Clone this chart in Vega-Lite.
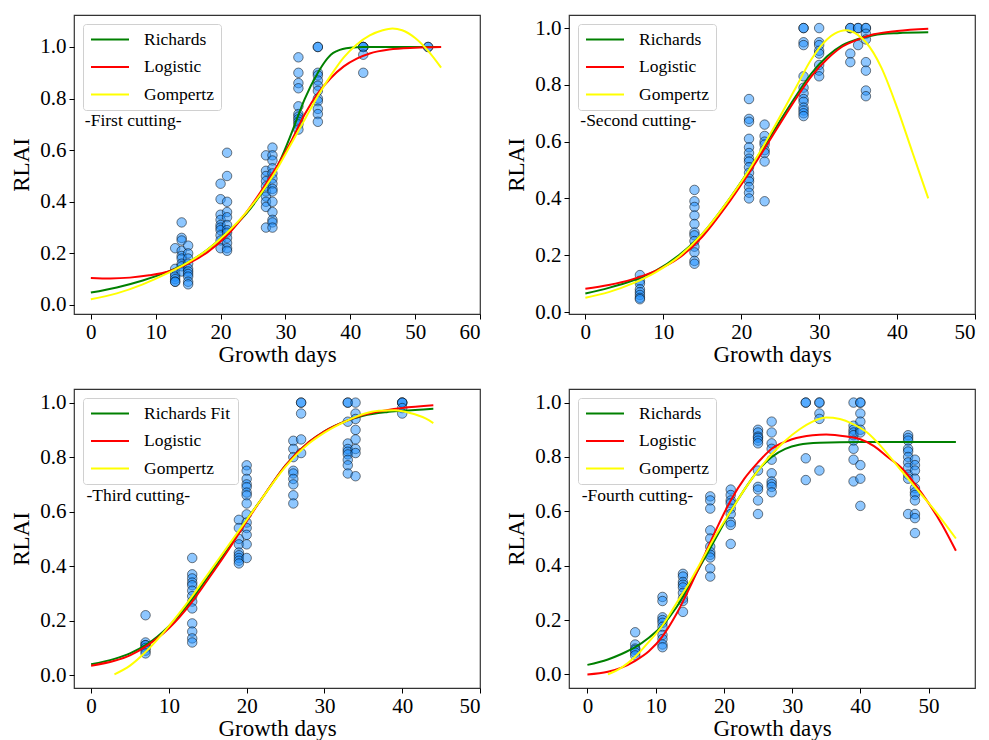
{
"$schema": "https://vega.github.io/schema/vega-lite/v6.json",
"padding": {"left": 10, "top": 14, "right": 2, "bottom": 2},
"background": "white",
"config": {
 "font": "Liberation Serif",
 "view": {"stroke": "#333333", "strokeWidth": 1.2},
 "axis": {"domain": false, "grid": false, "labelFont": "Liberation Serif", "labelFontSize": 21, "labelColor": "#000000", "titleFont": "Liberation Serif", "titleFontSize": 23, "titleFontWeight": "normal", "titleColor": "#000000", "tickColor": "#000000", "tickSize": 5, "labelPadding": 2},
 "axisX": {"titlePadding": 1},
 "axisY": {"titlePadding": 6, "labelPadding": 3},
 "legend": {"orient": "top-left", "offset": 9, "title": null, "symbolType": "stroke", "symbolSize": 1444, "symbolStrokeWidth": 2, "labelFont": "Liberation Serif", "labelFontSize": 17.5, "labelColor": "#000000", "labelOffset": 14, "padding": 7, "clipHeight": 17, "rowPadding": 9.5, "fillColor": "rgba(255,255,255,0.8)", "strokeColor": "#d0d0d0", "cornerRadius": 3}
},
"datasets": {
 "p1": [
  {"day":13,"rlai":0.22},{"day":13,"rlai":0.14},{"day":13,"rlai":0.12},{"day":13,"rlai":0.11},{"day":13,"rlai":0.10},{"day":13,"rlai":0.09},{"day":13,"rlai":0.09},
  {"day":14,"rlai":0.32},{"day":14,"rlai":0.26},{"day":14,"rlai":0.25},{"day":14,"rlai":0.21},{"day":14,"rlai":0.19},{"day":14,"rlai":0.18},{"day":14,"rlai":0.16},{"day":14,"rlai":0.15},{"day":14,"rlai":0.13},
  {"day":15,"rlai":0.23},{"day":15,"rlai":0.20},{"day":15,"rlai":0.18},{"day":15,"rlai":0.16},{"day":15,"rlai":0.14},{"day":15,"rlai":0.13},{"day":15,"rlai":0.12},{"day":15,"rlai":0.11},{"day":15,"rlai":0.09},{"day":15,"rlai":0.08},
  {"day":20,"rlai":0.47},{"day":20,"rlai":0.41},{"day":20,"rlai":0.35},{"day":20,"rlai":0.33},{"day":20,"rlai":0.31},{"day":20,"rlai":0.30},{"day":20,"rlai":0.29},{"day":20,"rlai":0.27},{"day":20,"rlai":0.25},{"day":20,"rlai":0.22},
  {"day":21,"rlai":0.59},{"day":21,"rlai":0.50},{"day":21,"rlai":0.40},{"day":21,"rlai":0.36},{"day":21,"rlai":0.34},{"day":21,"rlai":0.31},{"day":21,"rlai":0.29},{"day":21,"rlai":0.28},{"day":21,"rlai":0.26},{"day":21,"rlai":0.24},{"day":21,"rlai":0.22},{"day":21,"rlai":0.21},
  {"day":27,"rlai":0.58},{"day":27,"rlai":0.52},{"day":27,"rlai":0.50},{"day":27,"rlai":0.48},{"day":27,"rlai":0.46},{"day":27,"rlai":0.44},{"day":27,"rlai":0.42},{"day":27,"rlai":0.40},{"day":27,"rlai":0.38},{"day":27,"rlai":0.30},
  {"day":28,"rlai":0.61},{"day":28,"rlai":0.58},{"day":28,"rlai":0.56},{"day":28,"rlai":0.53},{"day":28,"rlai":0.51},{"day":28,"rlai":0.49},{"day":28,"rlai":0.47},{"day":28,"rlai":0.45},{"day":28,"rlai":0.44},{"day":28,"rlai":0.40},{"day":28,"rlai":0.36},{"day":28,"rlai":0.33},{"day":28,"rlai":0.32},{"day":28,"rlai":0.30},
  {"day":32,"rlai":0.96},{"day":32,"rlai":0.90},{"day":32,"rlai":0.86},{"day":32,"rlai":0.84},{"day":32,"rlai":0.77},{"day":32,"rlai":0.74},{"day":32,"rlai":0.73},{"day":32,"rlai":0.72},{"day":32,"rlai":0.71},{"day":32,"rlai":0.70},{"day":32,"rlai":0.68},
  {"day":35,"rlai":1.0},{"day":35,"rlai":1.0},{"day":35,"rlai":0.90},{"day":35,"rlai":0.89},{"day":35,"rlai":0.87},{"day":35,"rlai":0.85},{"day":35,"rlai":0.83},{"day":35,"rlai":0.80},{"day":35,"rlai":0.79},{"day":35,"rlai":0.76},{"day":35,"rlai":0.74},{"day":35,"rlai":0.71},
  {"day":42,"rlai":1.0},{"day":42,"rlai":1.0},{"day":42,"rlai":1.0},{"day":42,"rlai":0.97},{"day":42,"rlai":0.90},
  {"day":52,"rlai":1.0},{"day":52,"rlai":1.0}
 ],
 "p2": [
  {"day":7,"rlai":0.13},{"day":7,"rlai":0.11},{"day":7,"rlai":0.10},{"day":7,"rlai":0.08},{"day":7,"rlai":0.07},{"day":7,"rlai":0.06},{"day":7,"rlai":0.05},{"day":7,"rlai":0.045},
  {"day":14,"rlai":0.43},{"day":14,"rlai":0.39},{"day":14,"rlai":0.37},{"day":14,"rlai":0.34},{"day":14,"rlai":0.31},{"day":14,"rlai":0.28},{"day":14,"rlai":0.27},{"day":14,"rlai":0.25},{"day":14,"rlai":0.23},{"day":14,"rlai":0.21},{"day":14,"rlai":0.18},{"day":14,"rlai":0.17},
  {"day":21,"rlai":0.75},{"day":21,"rlai":0.68},{"day":21,"rlai":0.67},{"day":21,"rlai":0.61},{"day":21,"rlai":0.58},{"day":21,"rlai":0.56},{"day":21,"rlai":0.54},{"day":21,"rlai":0.53},{"day":21,"rlai":0.51},{"day":21,"rlai":0.49},{"day":21,"rlai":0.47},{"day":21,"rlai":0.46},{"day":21,"rlai":0.44},{"day":21,"rlai":0.42},{"day":21,"rlai":0.40},
  {"day":23,"rlai":0.66},{"day":23,"rlai":0.62},{"day":23,"rlai":0.60},{"day":23,"rlai":0.59},{"day":23,"rlai":0.57},{"day":23,"rlai":0.56},{"day":23,"rlai":0.53},{"day":23,"rlai":0.39},
  {"day":28,"rlai":1.0},{"day":28,"rlai":1.0},{"day":28,"rlai":0.95},{"day":28,"rlai":0.94},{"day":28,"rlai":0.83},{"day":28,"rlai":0.79},{"day":28,"rlai":0.77},{"day":28,"rlai":0.75},{"day":28,"rlai":0.74},{"day":28,"rlai":0.72},{"day":28,"rlai":0.71},{"day":28,"rlai":0.70},{"day":28,"rlai":0.69},
  {"day":30,"rlai":1.0},{"day":30,"rlai":0.95},{"day":30,"rlai":0.94},{"day":30,"rlai":0.92},{"day":30,"rlai":0.91},{"day":30,"rlai":0.87},{"day":30,"rlai":0.85},{"day":30,"rlai":0.83},
  {"day":34,"rlai":1.0},{"day":34,"rlai":1.0},{"day":34,"rlai":0.91},{"day":34,"rlai":0.88},
  {"day":35,"rlai":1.0},{"day":35,"rlai":1.0},{"day":35,"rlai":0.94},
  {"day":36,"rlai":1.0},{"day":36,"rlai":1.0},{"day":36,"rlai":0.98},{"day":36,"rlai":0.96},{"day":36,"rlai":0.88},{"day":36,"rlai":0.85},{"day":36,"rlai":0.78},{"day":36,"rlai":0.76}
 ],
 "p3": [
  {"day":7,"rlai":0.22},{"day":7,"rlai":0.12},{"day":7,"rlai":0.11},{"day":7,"rlai":0.11},{"day":7,"rlai":0.10},{"day":7,"rlai":0.09},{"day":7,"rlai":0.08},
  {"day":13,"rlai":0.43},{"day":13,"rlai":0.37},{"day":13,"rlai":0.355},{"day":13,"rlai":0.34},{"day":13,"rlai":0.33},{"day":13,"rlai":0.31},{"day":13,"rlai":0.29},{"day":13,"rlai":0.27},{"day":13,"rlai":0.245},{"day":13,"rlai":0.19},{"day":13,"rlai":0.16},{"day":13,"rlai":0.135},{"day":13,"rlai":0.12},
  {"day":19,"rlai":0.57},{"day":19,"rlai":0.54},{"day":19,"rlai":0.50},{"day":19,"rlai":0.48},{"day":19,"rlai":0.45},{"day":19,"rlai":0.44},{"day":19,"rlai":0.43},{"day":19,"rlai":0.42},{"day":19,"rlai":0.41},
  {"day":20,"rlai":0.77},{"day":20,"rlai":0.75},{"day":20,"rlai":0.72},{"day":20,"rlai":0.70},{"day":20,"rlai":0.69},{"day":20,"rlai":0.67},{"day":20,"rlai":0.66},{"day":20,"rlai":0.63},{"day":20,"rlai":0.59},{"day":20,"rlai":0.56},{"day":20,"rlai":0.54},{"day":20,"rlai":0.515},{"day":20,"rlai":0.48},{"day":20,"rlai":0.43},
  {"day":26,"rlai":0.86},{"day":26,"rlai":0.83},{"day":26,"rlai":0.80},{"day":26,"rlai":0.75},{"day":26,"rlai":0.74},{"day":26,"rlai":0.72},{"day":26,"rlai":0.70},{"day":26,"rlai":0.66},{"day":26,"rlai":0.63},
  {"day":27,"rlai":1.0},{"day":27,"rlai":1.0},{"day":27,"rlai":0.96},{"day":27,"rlai":0.865},{"day":27,"rlai":0.815},
  {"day":33,"rlai":1.0},{"day":33,"rlai":1.0},{"day":33,"rlai":0.93},{"day":33,"rlai":0.85},{"day":33,"rlai":0.83},{"day":33,"rlai":0.82},{"day":33,"rlai":0.81},{"day":33,"rlai":0.79},{"day":33,"rlai":0.77},{"day":33,"rlai":0.74},
  {"day":34,"rlai":1.0},{"day":34,"rlai":0.96},{"day":34,"rlai":0.94},{"day":34,"rlai":0.90},{"day":34,"rlai":0.865},{"day":34,"rlai":0.83},{"day":34,"rlai":0.815},{"day":34,"rlai":0.73},
  {"day":40,"rlai":1.0},{"day":40,"rlai":1.0},{"day":40,"rlai":1.0},{"day":40,"rlai":0.98},{"day":40,"rlai":0.96}
 ],
 "p4": [
  {"day":7,"rlai":0.155},{"day":7,"rlai":0.11},{"day":7,"rlai":0.095},{"day":7,"rlai":0.09},{"day":7,"rlai":0.08},{"day":7,"rlai":0.07},
  {"day":11,"rlai":0.285},{"day":11,"rlai":0.27},{"day":11,"rlai":0.21},{"day":11,"rlai":0.20},{"day":11,"rlai":0.19},{"day":11,"rlai":0.175},{"day":11,"rlai":0.145},{"day":11,"rlai":0.13},{"day":11,"rlai":0.11},{"day":11,"rlai":0.10},
  {"day":14,"rlai":0.37},{"day":14,"rlai":0.36},{"day":14,"rlai":0.34},{"day":14,"rlai":0.33},{"day":14,"rlai":0.32},{"day":14,"rlai":0.30},{"day":14,"rlai":0.28},{"day":14,"rlai":0.27},{"day":14,"rlai":0.23},
  {"day":18,"rlai":0.655},{"day":18,"rlai":0.64},{"day":18,"rlai":0.61},{"day":18,"rlai":0.53},{"day":18,"rlai":0.50},{"day":18,"rlai":0.47},{"day":18,"rlai":0.45},{"day":18,"rlai":0.44},{"day":18,"rlai":0.43},{"day":18,"rlai":0.39},{"day":18,"rlai":0.36},
  {"day":21,"rlai":0.68},{"day":21,"rlai":0.66},{"day":21,"rlai":0.64},{"day":21,"rlai":0.63},{"day":21,"rlai":0.61},{"day":21,"rlai":0.59},{"day":21,"rlai":0.56},{"day":21,"rlai":0.55},{"day":21,"rlai":0.48},
  {"day":25,"rlai":0.90},{"day":25,"rlai":0.89},{"day":25,"rlai":0.875},{"day":25,"rlai":0.87},{"day":25,"rlai":0.86},{"day":25,"rlai":0.85},{"day":25,"rlai":0.75},{"day":25,"rlai":0.69},{"day":25,"rlai":0.68},{"day":25,"rlai":0.64},{"day":25,"rlai":0.59},
  {"day":27,"rlai":0.93},{"day":27,"rlai":0.89},{"day":27,"rlai":0.85},{"day":27,"rlai":0.83},{"day":27,"rlai":0.79},{"day":27,"rlai":0.74},{"day":27,"rlai":0.71},{"day":27,"rlai":0.70},{"day":27,"rlai":0.69},{"day":27,"rlai":0.67},
  {"day":32,"rlai":1.0},{"day":32,"rlai":1.0},{"day":32,"rlai":0.795},{"day":32,"rlai":0.715},
  {"day":34,"rlai":1.0},{"day":34,"rlai":1.0},{"day":34,"rlai":0.96},{"day":34,"rlai":0.94},{"day":34,"rlai":0.75},
  {"day":39,"rlai":1.0},{"day":39,"rlai":0.915},{"day":39,"rlai":0.90},{"day":39,"rlai":0.89},{"day":39,"rlai":0.88},{"day":39,"rlai":0.86},{"day":39,"rlai":0.83},{"day":39,"rlai":0.79},{"day":39,"rlai":0.71},
  {"day":40,"rlai":1.0},{"day":40,"rlai":1.0},{"day":40,"rlai":0.96},{"day":40,"rlai":0.93},{"day":40,"rlai":0.90},{"day":40,"rlai":0.89},{"day":40,"rlai":0.77},{"day":40,"rlai":0.72},{"day":40,"rlai":0.62},
  {"day":47,"rlai":0.88},{"day":47,"rlai":0.87},{"day":47,"rlai":0.86},{"day":47,"rlai":0.83},{"day":47,"rlai":0.82},{"day":47,"rlai":0.80},{"day":47,"rlai":0.78},{"day":47,"rlai":0.76},{"day":47,"rlai":0.735},{"day":47,"rlai":0.72},{"day":47,"rlai":0.59},
  {"day":48,"rlai":0.79},{"day":48,"rlai":0.77},{"day":48,"rlai":0.75},{"day":48,"rlai":0.72},{"day":48,"rlai":0.685},{"day":48,"rlai":0.67},{"day":48,"rlai":0.66},{"day":48,"rlai":0.64},{"day":48,"rlai":0.59},{"day":48,"rlai":0.575},{"day":48,"rlai":0.52}
 ],
 "f1": [
  {"model":"Richards","day":0,"rlai":0.048},{"model":"Richards","day":4,"rlai":0.068},{"model":"Richards","day":8,"rlai":0.095},{"model":"Richards","day":12,"rlai":0.13},{"model":"Richards","day":15,"rlai":0.165},{"model":"Richards","day":18,"rlai":0.215},{"model":"Richards","day":21,"rlai":0.28},{"model":"Richards","day":24,"rlai":0.355},{"model":"Richards","day":27,"rlai":0.46},{"model":"Richards","day":29,"rlai":0.55},{"model":"Richards","day":31,"rlai":0.67},{"model":"Richards","day":33,"rlai":0.8},{"model":"Richards","day":35,"rlai":0.9},{"model":"Richards","day":36,"rlai":0.94},{"model":"Richards","day":37,"rlai":0.97},{"model":"Richards","day":38,"rlai":0.985},{"model":"Richards","day":40,"rlai":0.997},{"model":"Richards","day":42,"rlai":1.0},{"model":"Richards","day":48,"rlai":1.0},{"model":"Richards","day":54,"rlai":1.0},
  {"model":"Logistic","day":0,"rlai":0.105},{"model":"Logistic","day":3,"rlai":0.103},{"model":"Logistic","day":6,"rlai":0.106},{"model":"Logistic","day":9,"rlai":0.115},{"model":"Logistic","day":12,"rlai":0.13},{"model":"Logistic","day":15,"rlai":0.16},{"model":"Logistic","day":18,"rlai":0.205},{"model":"Logistic","day":21,"rlai":0.27},{"model":"Logistic","day":24,"rlai":0.36},{"model":"Logistic","day":27,"rlai":0.47},{"model":"Logistic","day":29,"rlai":0.55},{"model":"Logistic","day":31,"rlai":0.64},{"model":"Logistic","day":33,"rlai":0.74},{"model":"Logistic","day":35,"rlai":0.82},{"model":"Logistic","day":37,"rlai":0.88},{"model":"Logistic","day":39,"rlai":0.925},{"model":"Logistic","day":41,"rlai":0.955},{"model":"Logistic","day":43,"rlai":0.975},{"model":"Logistic","day":46,"rlai":0.99},{"model":"Logistic","day":50,"rlai":0.997},{"model":"Logistic","day":54,"rlai":1.0},
  {"model":"Gompertz","day":0,"rlai":0.022},{"model":"Gompertz","day":4,"rlai":0.045},{"model":"Gompertz","day":8,"rlai":0.08},{"model":"Gompertz","day":12,"rlai":0.125},{"model":"Gompertz","day":15,"rlai":0.165},{"model":"Gompertz","day":18,"rlai":0.215},{"model":"Gompertz","day":21,"rlai":0.28},{"model":"Gompertz","day":24,"rlai":0.36},{"model":"Gompertz","day":27,"rlai":0.46},{"model":"Gompertz","day":29,"rlai":0.54},{"model":"Gompertz","day":31,"rlai":0.63},{"model":"Gompertz","day":33,"rlai":0.72},{"model":"Gompertz","day":35,"rlai":0.81},{"model":"Gompertz","day":37,"rlai":0.89},{"model":"Gompertz","day":39,"rlai":0.96},{"model":"Gompertz","day":41,"rlai":1.01},{"model":"Gompertz","day":43,"rlai":1.045},{"model":"Gompertz","day":45,"rlai":1.065},{"model":"Gompertz","day":46.5,"rlai":1.072},{"model":"Gompertz","day":48,"rlai":1.065},{"model":"Gompertz","day":50,"rlai":1.035},{"model":"Gompertz","day":52,"rlai":0.985},{"model":"Gompertz","day":54,"rlai":0.92}
 ],
 "f2": [
  {"model":"Richards","day":0,"rlai":0.065},{"model":"Richards","day":3,"rlai":0.085},{"model":"Richards","day":6,"rlai":0.11},{"model":"Richards","day":9,"rlai":0.145},{"model":"Richards","day":12,"rlai":0.2},{"model":"Richards","day":15,"rlai":0.275},{"model":"Richards","day":18,"rlai":0.38},{"model":"Richards","day":21,"rlai":0.5},{"model":"Richards","day":24,"rlai":0.63},{"model":"Richards","day":27,"rlai":0.76},{"model":"Richards","day":29,"rlai":0.84},{"model":"Richards","day":31,"rlai":0.9},{"model":"Richards","day":33,"rlai":0.94},{"model":"Richards","day":35,"rlai":0.962},{"model":"Richards","day":37,"rlai":0.975},{"model":"Richards","day":40,"rlai":0.982},{"model":"Richards","day":44,"rlai":0.985},
  {"model":"Logistic","day":0,"rlai":0.082},{"model":"Logistic","day":3,"rlai":0.095},{"model":"Logistic","day":6,"rlai":0.115},{"model":"Logistic","day":9,"rlai":0.145},{"model":"Logistic","day":12,"rlai":0.19},{"model":"Logistic","day":15,"rlai":0.265},{"model":"Logistic","day":18,"rlai":0.37},{"model":"Logistic","day":21,"rlai":0.49},{"model":"Logistic","day":24,"rlai":0.62},{"model":"Logistic","day":27,"rlai":0.75},{"model":"Logistic","day":29,"rlai":0.83},{"model":"Logistic","day":31,"rlai":0.89},{"model":"Logistic","day":33,"rlai":0.935},{"model":"Logistic","day":35,"rlai":0.96},{"model":"Logistic","day":37,"rlai":0.978},{"model":"Logistic","day":40,"rlai":0.99},{"model":"Logistic","day":44,"rlai":0.998},
  {"model":"Gompertz","day":0,"rlai":0.05},{"model":"Gompertz","day":3,"rlai":0.07},{"model":"Gompertz","day":6,"rlai":0.1},{"model":"Gompertz","day":9,"rlai":0.14},{"model":"Gompertz","day":12,"rlai":0.195},{"model":"Gompertz","day":15,"rlai":0.275},{"model":"Gompertz","day":18,"rlai":0.38},{"model":"Gompertz","day":21,"rlai":0.5},{"model":"Gompertz","day":24,"rlai":0.64},{"model":"Gompertz","day":27,"rlai":0.79},{"model":"Gompertz","day":29,"rlai":0.89},{"model":"Gompertz","day":31,"rlai":0.96},{"model":"Gompertz","day":32,"rlai":0.98},{"model":"Gompertz","day":33.4,"rlai":0.992},{"model":"Gompertz","day":35,"rlai":0.975},{"model":"Gompertz","day":36,"rlai":0.95},{"model":"Gompertz","day":38,"rlai":0.86},{"model":"Gompertz","day":40,"rlai":0.72},{"model":"Gompertz","day":42,"rlai":0.56},{"model":"Gompertz","day":44,"rlai":0.4}
 ],
 "f3": [
  {"model":"Richards Fit","day":0,"rlai":0.04},{"model":"Richards Fit","day":3,"rlai":0.06},{"model":"Richards Fit","day":5,"rlai":0.08},{"model":"Richards Fit","day":7,"rlai":0.11},{"model":"Richards Fit","day":10,"rlai":0.18},{"model":"Richards Fit","day":13,"rlai":0.28},{"model":"Richards Fit","day":15,"rlai":0.36},{"model":"Richards Fit","day":18,"rlai":0.48},{"model":"Richards Fit","day":20,"rlai":0.57},{"model":"Richards Fit","day":22,"rlai":0.65},{"model":"Richards Fit","day":25,"rlai":0.77},{"model":"Richards Fit","day":28,"rlai":0.855},{"model":"Richards Fit","day":30,"rlai":0.895},{"model":"Richards Fit","day":33,"rlai":0.935},{"model":"Richards Fit","day":35,"rlai":0.952},{"model":"Richards Fit","day":38,"rlai":0.965},{"model":"Richards Fit","day":40,"rlai":0.97},{"model":"Richards Fit","day":44,"rlai":0.978},
  {"model":"Logistic","day":0,"rlai":0.035},{"model":"Logistic","day":3,"rlai":0.053},{"model":"Logistic","day":5,"rlai":0.073},{"model":"Logistic","day":7,"rlai":0.105},{"model":"Logistic","day":10,"rlai":0.172},{"model":"Logistic","day":13,"rlai":0.27},{"model":"Logistic","day":15,"rlai":0.35},{"model":"Logistic","day":18,"rlai":0.475},{"model":"Logistic","day":20,"rlai":0.565},{"model":"Logistic","day":22,"rlai":0.65},{"model":"Logistic","day":25,"rlai":0.77},{"model":"Logistic","day":28,"rlai":0.855},{"model":"Logistic","day":30,"rlai":0.895},{"model":"Logistic","day":33,"rlai":0.935},{"model":"Logistic","day":35,"rlai":0.955},{"model":"Logistic","day":38,"rlai":0.972},{"model":"Logistic","day":40,"rlai":0.98},{"model":"Logistic","day":44,"rlai":0.99},
  {"model":"Gompertz","day":3,"rlai":0.003},{"model":"Gompertz","day":5,"rlai":0.035},{"model":"Gompertz","day":7,"rlai":0.085},{"model":"Gompertz","day":10,"rlai":0.18},{"model":"Gompertz","day":13,"rlai":0.29},{"model":"Gompertz","day":15,"rlai":0.37},{"model":"Gompertz","day":18,"rlai":0.49},{"model":"Gompertz","day":20,"rlai":0.57},{"model":"Gompertz","day":22,"rlai":0.65},{"model":"Gompertz","day":25,"rlai":0.765},{"model":"Gompertz","day":28,"rlai":0.85},{"model":"Gompertz","day":30,"rlai":0.89},{"model":"Gompertz","day":33,"rlai":0.935},{"model":"Gompertz","day":35,"rlai":0.958},{"model":"Gompertz","day":37,"rlai":0.97},{"model":"Gompertz","day":39,"rlai":0.972},{"model":"Gompertz","day":41,"rlai":0.962},{"model":"Gompertz","day":43,"rlai":0.942},{"model":"Gompertz","day":44,"rlai":0.925}
 ],
 "f4": [
  {"model":"Richards","day":0,"rlai":0.035},{"model":"Richards","day":3,"rlai":0.055},{"model":"Richards","day":5,"rlai":0.075},{"model":"Richards","day":7,"rlai":0.1},{"model":"Richards","day":9,"rlai":0.135},{"model":"Richards","day":11,"rlai":0.18},{"model":"Richards","day":13,"rlai":0.245},{"model":"Richards","day":15,"rlai":0.33},{"model":"Richards","day":17,"rlai":0.42},{"model":"Richards","day":19,"rlai":0.51},{"model":"Richards","day":21,"rlai":0.6},{"model":"Richards","day":23,"rlai":0.68},{"model":"Richards","day":25,"rlai":0.75},{"model":"Richards","day":27,"rlai":0.8},{"model":"Richards","day":29,"rlai":0.83},{"model":"Richards","day":31,"rlai":0.845},{"model":"Richards","day":34,"rlai":0.852},{"model":"Richards","day":40,"rlai":0.855},{"model":"Richards","day":54,"rlai":0.855},
  {"model":"Logistic","day":0,"rlai":0.0},{"model":"Logistic","day":3,"rlai":0.01},{"model":"Logistic","day":5,"rlai":0.025},{"model":"Logistic","day":7,"rlai":0.05},{"model":"Logistic","day":9,"rlai":0.085},{"model":"Logistic","day":11,"rlai":0.14},{"model":"Logistic","day":13,"rlai":0.22},{"model":"Logistic","day":15,"rlai":0.32},{"model":"Logistic","day":17,"rlai":0.43},{"model":"Logistic","day":19,"rlai":0.54},{"model":"Logistic","day":21,"rlai":0.64},{"model":"Logistic","day":23,"rlai":0.72},{"model":"Logistic","day":25,"rlai":0.78},{"model":"Logistic","day":27,"rlai":0.83},{"model":"Logistic","day":30,"rlai":0.865},{"model":"Logistic","day":33,"rlai":0.88},{"model":"Logistic","day":35,"rlai":0.883},{"model":"Logistic","day":38,"rlai":0.875},{"model":"Logistic","day":40,"rlai":0.865},{"model":"Logistic","day":42,"rlai":0.84},{"model":"Logistic","day":44,"rlai":0.8},{"model":"Logistic","day":46,"rlai":0.76},{"model":"Logistic","day":48,"rlai":0.7},{"model":"Logistic","day":50,"rlai":0.63},{"model":"Logistic","day":52,"rlai":0.55},{"model":"Logistic","day":54,"rlai":0.455},
  {"model":"Gompertz","day":3,"rlai":0.0},{"model":"Gompertz","day":5,"rlai":0.025},{"model":"Gompertz","day":7,"rlai":0.065},{"model":"Gompertz","day":9,"rlai":0.12},{"model":"Gompertz","day":11,"rlai":0.18},{"model":"Gompertz","day":13,"rlai":0.26},{"model":"Gompertz","day":15,"rlai":0.34},{"model":"Gompertz","day":17,"rlai":0.43},{"model":"Gompertz","day":19,"rlai":0.52},{"model":"Gompertz","day":21,"rlai":0.6},{"model":"Gompertz","day":23,"rlai":0.68},{"model":"Gompertz","day":25,"rlai":0.75},{"model":"Gompertz","day":27,"rlai":0.81},{"model":"Gompertz","day":29,"rlai":0.86},{"model":"Gompertz","day":31,"rlai":0.9},{"model":"Gompertz","day":33,"rlai":0.93},{"model":"Gompertz","day":35,"rlai":0.945},{"model":"Gompertz","day":37,"rlai":0.94},{"model":"Gompertz","day":39,"rlai":0.92},{"model":"Gompertz","day":41,"rlai":0.89},{"model":"Gompertz","day":43,"rlai":0.84},{"model":"Gompertz","day":45,"rlai":0.78},{"model":"Gompertz","day":47,"rlai":0.72},{"model":"Gompertz","day":49,"rlai":0.66},{"model":"Gompertz","day":51,"rlai":0.6},{"model":"Gompertz","day":54,"rlai":0.5}
 ]
},
"columns": 2,
"spacing": {"row": 75, "column": 89},
"bounds": "flush",
"resolve": {"scale": {"color": "independent", "x": "independent", "y": "independent"}, "legend": {"color": "independent"}},
"concat": [
 {"width": 406, "height": 299, "layer": [
  {"data": {"name": "p1"}, "mark": {"type": "circle", "size": 90, "fill": "#1E90FF", "fillOpacity": 0.5, "stroke": "#000000", "strokeOpacity": 0.5, "strokeWidth": 1},
   "encoding": {"x": {"field": "day", "type": "quantitative", "scale": {"domain": [-2.6, 60], "nice": false, "zero": false}, "axis": {"values": [0,10,20,30,40,50,60], "title": "Growth days"}},
                "y": {"field": "rlai", "type": "quantitative", "scale": {"domain": [-0.035, 1.124], "nice": false, "zero": false}, "axis": {"values": [0,0.2,0.4,0.6,0.8,1.0], "format": ".1f", "title": "RLAI"}}}},
  {"data": {"name": "f1"}, "mark": {"type": "line", "strokeWidth": 2, "interpolate": "monotone"},
   "encoding": {"x": {"field": "day", "type": "quantitative"}, "y": {"field": "rlai", "type": "quantitative"},
                "color": {"field": "model", "type": "nominal", "scale": {"domain": ["Richards","Logistic","Gompertz"], "range": ["#008000","#ff0000","#ffff00"]}}}},
  {"data": {"values": [{}]}, "mark": {"type": "text", "align": "left", "baseline": "middle", "font": "Liberation Serif", "fontSize": 17.5, "color": "#000000"},
   "encoding": {"x": {"datum": -0.93, "type": "quantitative"}, "y": {"datum": 0.713, "type": "quantitative"}, "text": {"value": "-First cutting-"}}}
 ]},
 {"width": 406, "height": 299, "layer": [
  {"data": {"name": "p2"}, "mark": {"type": "circle", "size": 90, "fill": "#1E90FF", "fillOpacity": 0.5, "stroke": "#000000", "strokeOpacity": 0.5, "strokeWidth": 1},
   "encoding": {"x": {"field": "day", "type": "quantitative", "scale": {"domain": [-2.1, 50], "nice": false, "zero": false}, "axis": {"values": [0,10,20,30,40,50], "title": "Growth days"}},
                "y": {"field": "rlai", "type": "quantitative", "scale": {"domain": [-0.007, 1.046], "nice": false, "zero": false}, "axis": {"values": [0,0.2,0.4,0.6,0.8,1.0], "format": ".1f", "title": "RLAI"}}}},
  {"data": {"name": "f2"}, "mark": {"type": "line", "strokeWidth": 2, "interpolate": "monotone"},
   "encoding": {"x": {"field": "day", "type": "quantitative"}, "y": {"field": "rlai", "type": "quantitative"},
                "color": {"field": "model", "type": "nominal", "scale": {"domain": ["Richards","Logistic","Gompertz"], "range": ["#008000","#ff0000","#ffff00"]}}}},
  {"data": {"values": [{}]}, "mark": {"type": "text", "align": "left", "baseline": "middle", "font": "Liberation Serif", "fontSize": 17.5, "color": "#000000"},
   "encoding": {"x": {"datum": -0.65, "type": "quantitative"}, "y": {"datum": 0.673, "type": "quantitative"}, "text": {"value": "-Second cutting-"}}}
 ]},
 {"width": 406, "height": 299, "layer": [
  {"data": {"name": "p3"}, "mark": {"type": "circle", "size": 90, "fill": "#1E90FF", "fillOpacity": 0.5, "stroke": "#000000", "strokeOpacity": 0.5, "strokeWidth": 1},
   "encoding": {"x": {"field": "day", "type": "quantitative", "scale": {"domain": [-2.2, 50], "nice": false, "zero": false}, "axis": {"values": [0,10,20,30,40,50], "title": "Growth days"}},
                "y": {"field": "rlai", "type": "quantitative", "scale": {"domain": [-0.047, 1.05], "nice": false, "zero": false}, "axis": {"values": [0,0.2,0.4,0.6,0.8,1.0], "format": ".1f", "title": "RLAI"}}}},
  {"data": {"name": "f3"}, "mark": {"type": "line", "strokeWidth": 2, "interpolate": "monotone"},
   "encoding": {"x": {"field": "day", "type": "quantitative"}, "y": {"field": "rlai", "type": "quantitative"},
                "color": {"field": "model", "type": "nominal", "scale": {"domain": ["Richards Fit","Logistic","Gompertz"], "range": ["#008000","#ff0000","#ffff00"]}}}},
  {"data": {"values": [{}]}, "mark": {"type": "text", "align": "left", "baseline": "middle", "font": "Liberation Serif", "fontSize": 17.5, "color": "#000000"},
   "encoding": {"x": {"datum": -0.6, "type": "quantitative"}, "y": {"datum": 0.656, "type": "quantitative"}, "text": {"value": "-Third cutting-"}}}
 ]},
 {"width": 406, "height": 299, "layer": [
  {"data": {"name": "p4"}, "mark": {"type": "circle", "size": 90, "fill": "#1E90FF", "fillOpacity": 0.5, "stroke": "#000000", "strokeOpacity": 0.5, "strokeWidth": 1},
   "encoding": {"x": {"field": "day", "type": "quantitative", "scale": {"domain": [-2.7, 56.8], "nice": false, "zero": false}, "axis": {"values": [0,10,20,30,40,50], "title": "Growth days"}},
                "y": {"field": "rlai", "type": "quantitative", "scale": {"domain": [-0.05, 1.05], "nice": false, "zero": false}, "axis": {"values": [0,0.2,0.4,0.6,0.8,1.0], "format": ".1f", "title": "RLAI"}}}},
  {"data": {"name": "f4"}, "mark": {"type": "line", "strokeWidth": 2, "interpolate": "monotone"},
   "encoding": {"x": {"field": "day", "type": "quantitative"}, "y": {"field": "rlai", "type": "quantitative"},
                "color": {"field": "model", "type": "nominal", "scale": {"domain": ["Richards","Logistic","Gompertz"], "range": ["#008000","#ff0000","#ffff00"]}}}},
  {"data": {"values": [{}]}, "mark": {"type": "text", "align": "left", "baseline": "middle", "font": "Liberation Serif", "fontSize": 17.5, "color": "#000000"},
   "encoding": {"x": {"datum": -0.83, "type": "quantitative"}, "y": {"datum": 0.655, "type": "quantitative"}, "text": {"value": "-Fourth cutting-"}}}
 ]}
]
}
